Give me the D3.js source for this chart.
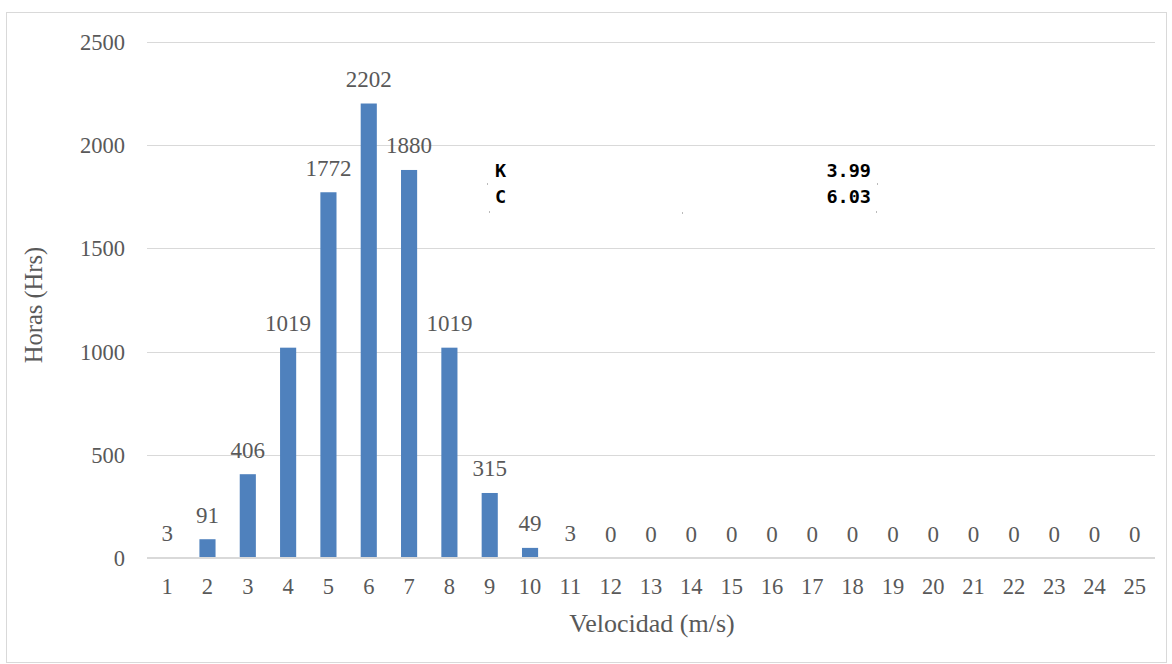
<!DOCTYPE html>
<html>
<head>
<meta charset="utf-8">
<script src="https://cdn.jsdelivr.net/npm/d3@7"></script>
<style>
  body { margin: 0; background: #fff; }
  svg text { font-family: "Liberation Serif", "Times New Roman", serif; fill: #595959; }
</style>
</head>
<body>
<div id="chart"></div>
<script>
// Data
//-----
var velocities = d3.range(1, 26);
var hours = [3, 91, 406, 1019, 1772, 2202, 1880, 1019, 315, 49, 3,
  0, 0, 0, 0, 0, 0, 0, 0, 0, 0, 0, 0, 0, 0];
var yTicks = [0, 500, 1000, 1500, 2000, 2500];
var paramNames = ["K", "C"];
var paramValues = ["3.99", "6.03"];

// Sizing parameters
//------------------
var svgWidth = 1172;
var svgHeight = 664;
var margin = { top: 42, right: 17, bottom: 106, left: 147 };
var width = svgWidth - margin.left - margin.right;
var height = svgHeight - margin.top - margin.bottom;

var svg = d3.select("#chart")
  .append("svg")
  .attr("width", svgWidth)
  .attr("height", svgHeight);

// outer frame
svg.append("rect")
  .attr("x", 6.5).attr("y", 12.5)
  .attr("width", 1160).attr("height", 650)
  .attr("fill", "none")
  .attr("stroke", "#d9d9d9");

var chartGroup = svg.append("g")
  .attr("transform", `translate(${margin.left}, ${margin.top})`);

// Scales
var xScale = d3.scaleBand()
  .domain(velocities)
  .range([0, width])
  .paddingInner(0.6)
  .paddingOuter(0.3);

var yScale = d3.scaleLinear()
  .domain([0, 2500])
  .range([height, 0]);

// gridlines (the zero line is drawn after the bars)
chartGroup.append("g")
  .selectAll("line")
  .data(yTicks.filter(d => d > 0))
  .enter()
  .append("line")
  .attr("x1", 0)
  .attr("x2", width)
  .attr("y1", d => Math.round(yScale(d)) + 0.5)
  .attr("y2", d => Math.round(yScale(d)) + 0.5)
  .attr("stroke", "#d9d9d9");

// y tick labels
chartGroup.append("g")
  .selectAll("text")
  .data(yTicks)
  .enter()
  .append("text")
  .attr("x", -22)
  .attr("y", d => yScale(d) + 8)
  .attr("text-anchor", "end")
  .attr("font-size", 22.5)
  .text(d => d);

// x tick labels
chartGroup.append("g")
  .selectAll("text")
  .data(velocities)
  .enter()
  .append("text")
  .attr("x", d => xScale(d) + xScale.bandwidth() / 2)
  .attr("y", height + 36)
  .attr("text-anchor", "middle")
  .attr("font-size", 22.5)
  .text(d => d);

// bars
chartGroup.append("g")
  .selectAll("rect")
  .data(hours)
  .enter()
  .append("rect")
  .attr("x", (d, i) => xScale(velocities[i]))
  .attr("y", d => yScale(d))
  .attr("width", xScale.bandwidth())
  .attr("height", d => height - yScale(d))
  .attr("fill", "#4f81bd");

// base line
chartGroup.append("line")
  .attr("x1", 0)
  .attr("x2", width)
  .attr("y1", yScale(0))
  .attr("y2", yScale(0))
  .attr("stroke", "#d9d9d9")
  .attr("stroke-width", 2);

// value labels
chartGroup.append("g")
  .selectAll("text")
  .data(hours)
  .enter()
  .append("text")
  .attr("x", (d, i) => xScale(velocities[i]) + xScale.bandwidth() / 2)
  .attr("y", d => yScale(d) - 16.5)
  .attr("text-anchor", "middle")
  .attr("font-size", 23)
  .attr("fill", "#404040")
  .text(d => d);

// axis titles
svg.append("text")
  .attr("transform", "translate(42, 305) rotate(-90)")
  .attr("text-anchor", "middle")
  .attr("font-size", 24.5)
  .text("Horas (Hrs)");

svg.append("text")
  .attr("x", 652)
  .attr("y", 632)
  .attr("text-anchor", "middle")
  .attr("font-size", 26)
  .text("Velocidad (m/s)");

// Weibull parameters box
var paramGroup = svg.append("g");
paramGroup.selectAll("text.name")
  .data(paramNames)
  .enter()
  .append("text")
  .attr("x", 495)
  .attr("y", (d, i) => 177 + i * 26)
  .style("font-family", "'DejaVu Sans Mono', monospace")
  .style("font-weight", "bold")
  .style("fill", "#000")
  .attr("font-size", 18.5)
  .text(d => d);

paramGroup.selectAll("text.value")
  .data(paramValues)
  .enter()
  .append("text")
  .attr("x", 871)
  .attr("y", (d, i) => 177 + i * 26)
  .attr("text-anchor", "end")
  .style("font-family", "'DejaVu Sans Mono', monospace")
  .style("font-weight", "bold")
  .style("fill", "#000")
  .attr("font-size", 18.5)
  .text(d => d);

// small corner specks of the table box
var specks = [[487, 183], [489, 211], [682, 212], [877, 183], [876, 211]];
paramGroup.selectAll("rect")
  .data(specks)
  .enter()
  .append("rect")
  .attr("x", d => d[0])
  .attr("y", d => d[1])
  .attr("width", 1)
  .attr("height", 2)
  .attr("fill", "#bbb");
</script>
</body>
</html>
